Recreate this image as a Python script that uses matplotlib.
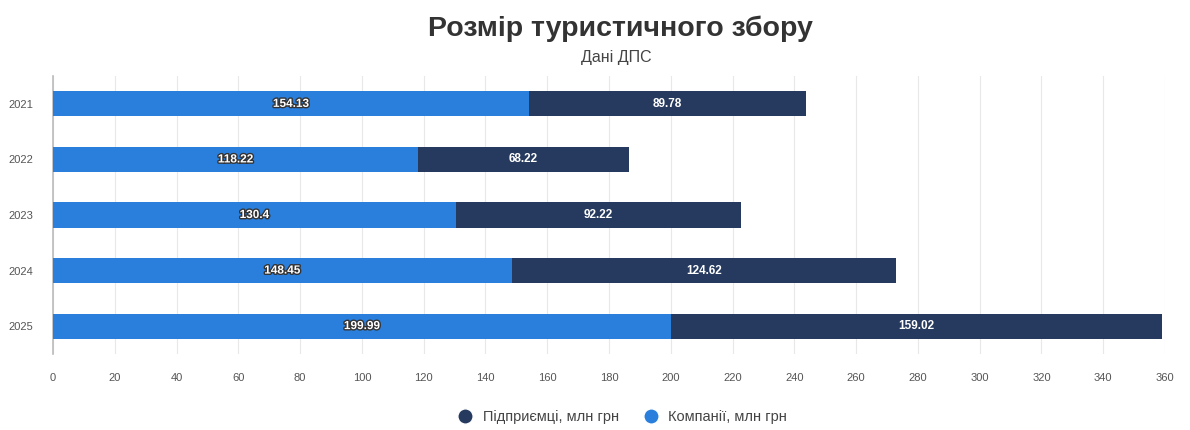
import numpy as np
import matplotlib.pyplot as plt
import matplotlib.patheffects as pe
from matplotlib.lines import Line2D

years = ["2021", "2022", "2023", "2024", "2025"]
companies = [154.13, 118.22, 130.4, 148.45, 199.99]
entrepreneurs = [89.78, 68.22, 92.22, 124.62, 159.02]

blue = "#2b7fdc"
navy = "#253a5e"

plt.rcParams['font.family'] = ['Liberation Sans', 'DejaVu Sans']
fig = plt.figure(figsize=(11.9, 4.3), dpi=100)
ax = fig.add_axes([0.0445, 0.177, 0.9345, 0.646])

y = np.arange(len(years))
ax.barh(y, companies, height=0.45, color=blue, zorder=3)
ax.barh(y, entrepreneurs, left=companies, height=0.45, color=navy, zorder=3)

##Value labels
for i in range(len(years)):
    ax.text(companies[i] / 2, y[i], f"{companies[i]:g}", ha='center', va='center',
            color='white', fontsize=8.5, fontweight='bold', zorder=4,
            path_effects=[pe.withStroke(linewidth=2, foreground='#333333')])
    ax.text(companies[i] + entrepreneurs[i] / 2, y[i], f"{entrepreneurs[i]:.2f}", ha='center', va='center',
            color='white', fontsize=8.5, fontweight='bold', zorder=4)

ax.set_xlim(0, 360)
ax.set_ylim(len(years) - 0.5, -0.5)
ax.set_xticks(np.arange(0, 361, 20))
ax.set_yticks(y)
ax.set_yticklabels(years)
ax.tick_params(axis='both', length=0, labelsize=8, colors='#555555')
ax.tick_params(axis='x', pad=14)
ax.tick_params(axis='y', pad=14)
ax.grid(axis='x', color='#e8e8e8', linewidth=0.8, zorder=0)
for s in ['top', 'right', 'bottom']:
    ax.spines[s].set_visible(False)
ax.spines['left'].set_color('#bbbbbb')
ax.spines['left'].set_linewidth(1.2)

fig.text(0.521, 0.933, "Розмір туристичного збору", ha='center', va='center',
         fontsize=20.5, fontweight='bold', color='#333333')
fig.text(0.518, 0.866, "Дані ДПС", ha='center', va='center', fontsize=11.5, color='#444444')

handles = [Line2D([0], [0], marker='o', color='w', markerfacecolor=navy, markersize=11, label="Підприємці, млн грн"),
           Line2D([0], [0], marker='o', color='w', markerfacecolor=blue, markersize=11, label="Компанії, млн грн")]
fig.legend(handles=handles, loc='center', bbox_to_anchor=(0.52, 0.03), ncol=2, frameon=False,
           fontsize=10.5, handletextpad=0.2, columnspacing=1.2, labelcolor='#444444')

plt.savefig("out.png", dpi=100)
